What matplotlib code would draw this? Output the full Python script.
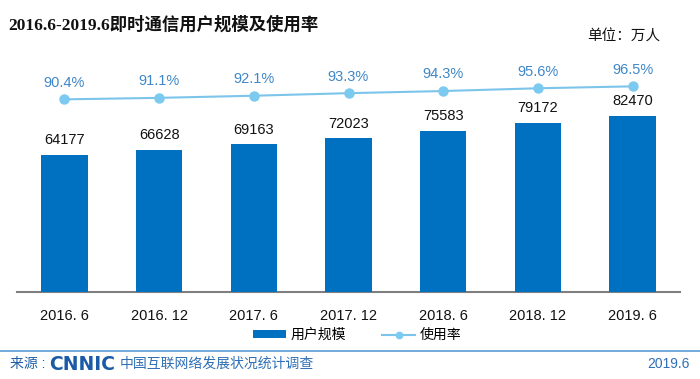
import matplotlib.pyplot as plt
import numpy as np

plt.rcParams['font.family'] = ['Liberation Sans', 'Noto Sans CJK SC', 'DejaVu Sans']

# 数据
periods = ['2016. 6', '2016. 12', '2017. 6', '2017. 12', '2018. 6', '2018. 12', '2019. 6']
users = [64177, 66628, 69163, 72023, 75583, 79172, 82470]
rate = [90.4, 91.1, 92.1, 93.3, 94.3, 95.6, 96.5]

W, H = 700, 379
fig = plt.figure(figsize=(W / 100, H / 100), dpi=100)
fig.patch.set_facecolor('white')

# 坐标区: 左17 右680 上40 下292 (像素)
ax = fig.add_axes([17 / W, 1 - 292 / H, (680 - 17) / W, (292 - 40) / H])
ax.patch.set_alpha(0)
x = np.arange(len(periods))
ax.bar(x, users, width=0.49, color='#0070c0', label='用户规模', zorder=3)
ax.set_xlim(-0.5, len(periods) - 0.5)
ax.set_ylim(0, 118000)
for xi, v in zip(x, users):
    ax.text(xi, v + 3500, str(v), ha='center', va='bottom', fontsize=10.5, color='#111111')

ax2 = ax.twinx()
line, = ax2.plot(x, rate, color='#7cc4ea', linewidth=1.5, marker='o', markersize=6.5,
                 markerfacecolor='#7ccaf0', markeredgecolor='#7ccaf0', label='使用率', zorder=4)
ax2.set_ylim(0, 118.25)
for xi, r in zip(x, rate):
    ax2.text(xi, r + 4.5, f'{r}%', ha='center', va='bottom', fontsize=10.5, color='#3f87c8')

for a in (ax, ax2):
    for s in ['top', 'right', 'left']:
        a.spines[s].set_visible(False)
    a.set_yticks([])
ax.spines['bottom'].set_color('#7f7f7f')
ax.spines['bottom'].set_linewidth(1.5)
ax2.spines['bottom'].set_visible(False)
ax.set_xticks(x)
ax.set_xticklabels(periods, fontsize=10.5, color='#111111')
ax.tick_params(axis='x', length=0, pad=12)

h1, l1 = ax.get_legend_handles_labels()
h2, l2 = ax2.get_legend_handles_labels()
leg = fig.legend(h1 + h2, l1 + l2, loc='center', bbox_to_anchor=(357 / W, 1 - 335 / H),
                 ncol=2, frameon=False, fontsize=10, handlelength=2.4, handleheight=0.5,
                 columnspacing=2.6, handletextpad=0.3, markerscale=0.7)

# 标题
fig.text(8 / W, 1 - 25 / H, '2016.6-2019.6即时通信用户规模及使用率',
         family=['Liberation Serif', 'Noto Sans CJK SC'], fontweight='bold',
         fontsize=12.5, color='#111111', va='center', ha='left')
fig.text(660 / W, 1 - 37 / H, '单位：万人', fontsize=10.5, color='#111111',
         ha='right', va='center')

# 页脚
fig.add_artist(plt.Line2D([0, 1], [1 - 351 / H] * 2, color='#5b9bd5', linewidth=1.2))
fig.text(10 / W, 1 - 364 / H, '来源 :', fontsize=10, color='#1f5fa8', va='center')
fig.text(49 / W, 1 - 364 / H, 'CNNIC', fontsize=13.5, fontweight='bold', color='#1a5aa6',
         va='center', family=['DejaVu Sans'])
fig.text(120 / W, 1 - 364 / H, '中国互联网络发展状况统计调查', fontsize=10,
         color='#2f6fb5', va='center', family=['Noto Sans CJK SC'])
fig.text(690 / W, 1 - 364 / H, '2019.6', fontsize=10, color='#2f6fb5',
         ha='right', va='center')

fig.savefig('out.png', dpi=100)
